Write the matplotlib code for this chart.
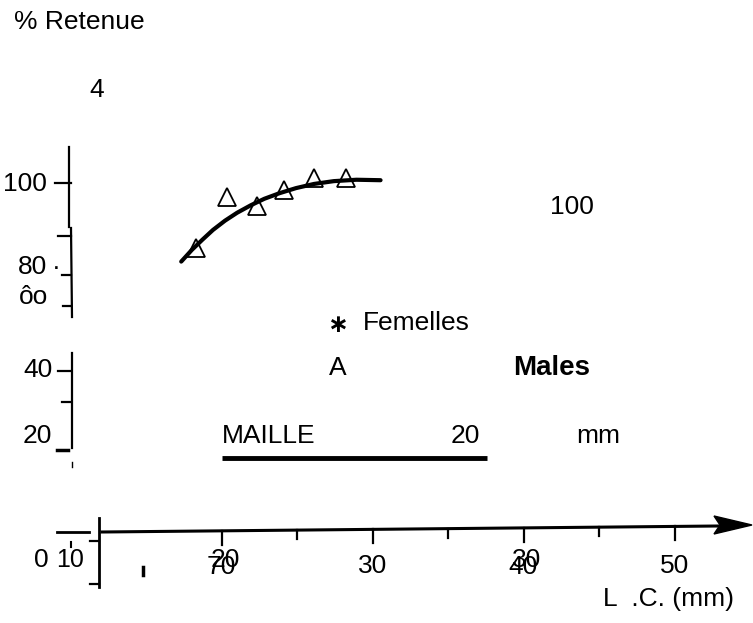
import matplotlib
matplotlib.use("Agg")
import matplotlib.pyplot as plt
from matplotlib.transforms import blended_transform_factory
from matplotlib.patches import Polygon

# ---- data ----
tri_x = [18.3, 20.3, 22.3, 24.1, 26.1, 28.2]          # L.C. (mm)
tri_y = [86.0, 97.0, 95.0, 98.5, 101.0, 101.0]        # % retenue
curve_x = [17.3, 18.0, 18.7, 19.4, 20.2, 21.0, 21.9, 22.8, 23.8, 24.9,
           26.1, 27.4, 28.9, 30.5]
curve_y = [83.1, 85.6, 87.8, 89.9, 91.9, 93.6, 95.2, 96.6, 97.8, 98.9,
           99.8, 100.4, 100.7, 100.6]

xtick_major = [20, 30, 40, 50]
xtick_minor = [25, 35, 45]
xtick_labels_top = ["20", "30", "30", "50"]
xtick_labels_low = ["70", "", "40", ""]
ytick_labels = ["100", "80", "ôo", "40", "20"]

FONT = "Liberation Sans"
FS = 19

fig = plt.figure(figsize=(7.53, 6.23), dpi=100)
fig.patch.set_facecolor("white")

# pixel-space axes for decorations
axp = fig.add_axes([0, 0, 1, 1])
axp.set_xlim(0, 753)
axp.set_ylim(623, 0)
axp.axis("off")

# data axes, placed so the data scale matches the drawing
axd = fig.add_axes([0, 0, 1, 1])
axd.patch.set_alpha(0)
# pixel = 222 + 15.1*(x-20) ; pixel_y = 183 + 4.65*(100-y)
axd.set_xlim(20 - 222 / 15.1, 20 + (753 - 222) / 15.1)
axd.set_ylim(100 - (623 - 183) / 4.65, 100 + 183 / 4.65)
axd.axis("off")

# curve and triangles
axd.plot(curve_x, curve_y, color="black", lw=3.0, solid_capstyle="round",
         solid_joinstyle="round")
axd.plot(tri_x, tri_y, ls="none", marker="^", ms=13, mfc="none",
         mec="black", mew=1.3)

k = dict(color="black", lw=1.6)
# hand drawn y-axis segments
axp.plot([69, 69], [147, 227], **k)
axp.plot([71, 72], [228, 317], **k)
axp.plot([72, 72], [353, 448], **k)
for (x0, y) in [(55, 183), (58, 236), (62, 275), (63, 306), (58, 371), (62, 402)]:
    axp.plot([x0, 71], [y, y], **k)
axp.plot([57, 68], [450, 450], color="black", lw=2.5)
axp.plot([72, 72], [462, 467], color="black", lw=1)

# lower left fragment
axp.plot([57, 89], [532, 532], color="black", lw=2)
axp.plot([99, 99], [518, 587], color="black", lw=2)
axp.plot([90, 99], [541, 541], **k)
axp.plot([90, 99], [584, 584], **k)
axp.plot([143, 143], [567, 575], color="black", lw=2.5)
axp.plot([71, 71], [542, 547], color="black", lw=1.5)

# x axis with arrow
axp.plot([102, 718], [532, 526], color="black", lw=2.2)
axp.add_patch(Polygon([(714, 516), (752, 525), (714, 534), (720, 525)],
                      closed=True, color="black"))

tr = blended_transform_factory(axd.transData, axp.transData)
def axis_y(xpix):
    return 532 - 6 * (xpix - 102) / 616
for xv in xtick_major:
    xp = 222 + 15.1 * (xv - 20)
    y0 = axis_y(xp)
    axd.plot([xv, xv], [y0, y0 + 14], transform=tr, color="black", lw=1.6)
for xv in xtick_minor:
    xp = 222 + 15.1 * (xv - 20)
    y0 = axis_y(xp)
    axd.plot([xv, xv], [y0, y0 + 9], transform=tr, color="black", lw=1.6)

# x tick labels (overprinted as in the scan)
for xv, lt, ll in zip(xtick_major, xtick_labels_top, xtick_labels_low):
    xp = 222 + 15.1 * (xv - 20)
    if ll:
        axp.text(xp + 3, 560, lt, ha="center", va="center", fontsize=FS, family=FONT)
        axp.text(xp - 1, 567, ll, ha="center", va="center", fontsize=FS, family=FONT)
    else:
        axp.text(xp, 566, lt, ha="center", va="center", fontsize=FS, family=FONT)

# y tick labels
ypos = [(47, 184), (47, 267), (48, 297), (53, 370), (52, 436)]
for (xr, yc), lab in zip(ypos, ytick_labels):
    axp.text(xr, yc, lab, ha="right", va="center", fontsize=FS, family=FONT)
axp.text(56, 268, "·", ha="center", va="center", fontsize=FS, family=FONT)
axp.text(41, 560, "0", ha="center", va="center", fontsize=FS, family=FONT)
axp.text(70, 560, "10", ha="center", va="center", fontsize=18, family=FONT)

# titles and annotations
axp.text(14, 22, "% Retenue", ha="left", va="center", fontsize=FS, family=FONT)
axp.text(97, 90, "4", ha="center", va="center", fontsize=FS, family=FONT)
axp.text(572, 207, "100", ha="center", va="center", fontsize=FS, family=FONT)
axp.text(338, 325, "\u2217", ha="center", va="center", fontsize=18,
         family="DejaVu Sans", fontweight="bold")
axp.text(363, 323, "Femelles", ha="left", va="center", fontsize=FS, family=FONT)
axp.text(338, 368, "A", ha="center", va="center", fontsize=FS, family=FONT)
axp.text(552, 368, "Males", ha="center", va="center", fontsize=20, family=FONT,
         fontweight="bold")
axp.text(222, 436, "MAILLE", ha="left", va="center", fontsize=FS, family=FONT)
axp.text(465, 436, "20", ha="center", va="center", fontsize=FS, family=FONT)
axp.text(598, 436, "mm", ha="center", va="center", fontsize=FS, family=FONT)
axp.plot([222, 487], [458, 458], color="black", lw=3.5, solid_capstyle="butt")
axp.text(603, 599, "L  .C. (mm)", ha="left", va="center", fontsize=FS, family=FONT)

fig.savefig("out.png", dpi=100)
